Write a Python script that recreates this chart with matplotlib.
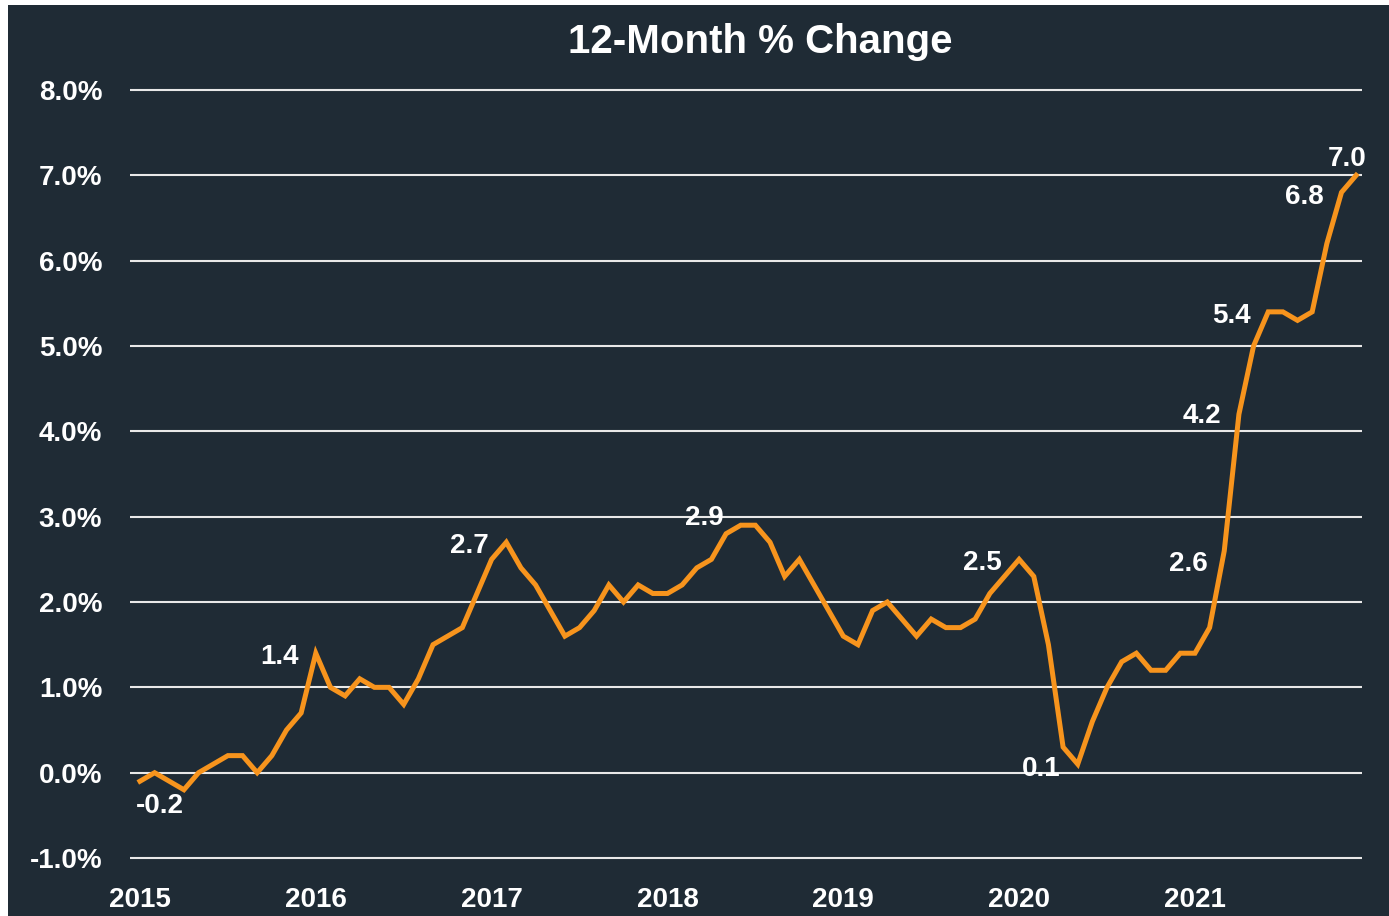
import matplotlib
matplotlib.use("Agg")
import matplotlib.pyplot as plt
from matplotlib.patches import Rectangle

title = "12-Month % Change"
years = ["2015", "2016", "2017", "2018", "2019", "2020", "2021"]
cpi_2015 = [-0.1, 0.0, -0.1, -0.2, 0.0, 0.1, 0.2, 0.2, 0.0, 0.2, 0.5, 0.7]
cpi_2016 = [1.4, 1.0, 0.9, 1.1, 1.0, 1.0, 0.8, 1.1, 1.5, 1.6, 1.7, 2.1]
cpi_2017 = [2.5, 2.7, 2.4, 2.2, 1.9, 1.6, 1.7, 1.9, 2.2, 2.0, 2.2, 2.1]
cpi_2018 = [2.1, 2.2, 2.4, 2.5, 2.8, 2.9, 2.9, 2.7, 2.3, 2.5, 2.2, 1.9]
cpi_2019 = [1.6, 1.5, 1.9, 2.0, 1.8, 1.6, 1.8, 1.7, 1.7, 1.8, 2.1, 2.3]
cpi_2020 = [2.5, 2.3, 1.5, 0.3, 0.1, 0.6, 1.0, 1.3, 1.4, 1.2, 1.2, 1.4]
cpi_2021 = [1.4, 1.7, 2.6, 4.2, 5.0, 5.4, 5.4, 5.3, 5.4, 6.2, 6.8, 7.0]
y_ticks = [-1.0, 0.0, 1.0, 2.0, 3.0, 4.0, 5.0, 6.0, 7.0, 8.0]

# labelled points: (month index, text offset in pixels dx, dy)
labels_idx = [3, 12, 25, 41, 60, 64, 74, 75, 77, 82, 83]
labels_off = [(-24, -16), (-36, -4), (-37, -4), (-36, 7), (-37, -4), (-37, -5),
              (-36, -13), (-37, -2), (-37, -4), (-37, -5), (-9, 16)]

values = cpi_2015 + cpi_2016 + cpi_2017 + cpi_2018 + cpi_2019 + cpi_2020 + cpi_2021
months = list(range(len(values)))

BG = "#1f2b35"
ORANGE = "#f7941d"
FONT = ["Liberation Sans", "DejaVu Sans"]
plt.rcParams["font.family"] = FONT

W, H = 1389, 916
fig = plt.figure(figsize=(W / 100, H / 100), dpi=100, facecolor="white")
fig.patches.append(Rectangle((8 / W, 0), 1 - 8 / W, 1 - 5 / H, transform=fig.transFigure,
                             facecolor=BG, edgecolor="none", zorder=-10))

ax_l, ax_r = 130 / W, 1362 / W
ax_t, ax_b = 85.7 / H, 862.3 / H
ax = fig.add_axes([ax_l, 1 - ax_b, ax_r - ax_l, ax_b - ax_t])
ax.set_facecolor("none")

ax.plot(months, values, color=ORANGE, lw=3.6, solid_joinstyle="miter", zorder=3)

ax.set_ylim(-1.05, 8.05)
ax.set_xlim(-0.68, 83.4)
ax.set_yticks(y_ticks)
ax.set_yticklabels([f"{v:.1f}%" for v in y_ticks])
ax.set_xticks([12 * i for i in range(len(years))])
ax.set_xticklabels(years)
ax.grid(axis="y", color="#e8e8e8", lw=1.5, zorder=1)
ax.grid(axis="x", visible=False)
for s in ax.spines.values():
    s.set_visible(False)
ax.tick_params(axis="both", length=0, colors="white", labelsize=20)
ax.tick_params(axis="y", pad=20)
ax.tick_params(axis="x", pad=18)
for lab in ax.get_xticklabels() + ax.get_yticklabels():
    lab.set_fontweight("bold")
    lab.set_color("white")

for i, (dx, dy) in zip(labels_idx, labels_off):
    ax.annotate(f"{values[i]:.1f}", (months[i], values[i]), xytext=(dx * 0.72, dy * 0.72),
                textcoords="offset points", ha="center", va="center",
                color="white", fontsize=20, fontweight="bold", zorder=4)

fig.text(760 / W, 1 - 42 / H, title, ha="center", va="center", color="white",
         fontsize=29, fontweight="bold")

fig.savefig("out.png", dpi=100, facecolor=fig.get_facecolor())
